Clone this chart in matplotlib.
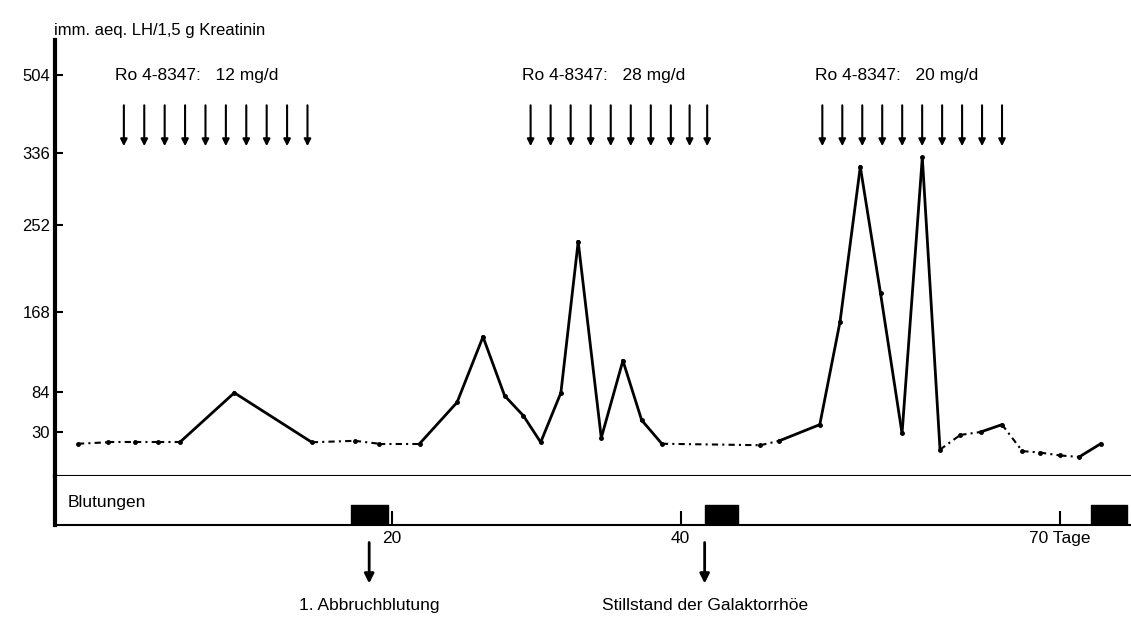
import numpy as np
import matplotlib
matplotlib.use("Agg")
import matplotlib.pyplot as plt

# LH excretion (days, immuno-equivalents LH / 1.5 g creatinine)
days = [-1.9, 0.2, 2.1, 3.7, 5.2, 9.0, 14.4, 17.4, 19.1, 21.9, 24.5, 26.3, 27.8, 29.1, 30.3,
        31.7, 32.9, 34.5, 36.0, 37.3, 38.7, 46.3, 47.8, 51.0, 52.6, 54.2, 55.8, 57.5, 59.1,
        60.5, 62.1, 63.7, 65.4, 67.0, 68.4, 70.0, 71.5, 73.2]
lh = [22, 23, 23, 23, 23, 83, 23, 24, 22, 22, 70, 142, 79, 52, 23,
      83, 236, 26, 117, 46, 22, 21, 24, 40, 158, 320, 186, 29, 331,
      18, 28, 30, 40, 17, 16, 14, 13, 22]
# segment styles: True = solid
solid = [False, False, False, False, True, True, False, False, False, True, True, True, True, True,
         True, True, True, True, True, True, False, False, True, True, True, True, True, True,
         True, False, False, True, False, False, False, False, True]
yticks = [30, 84, 168, 252, 336, 504]
xticks = [20, 40, 70]
xticklabels = ["20", "40", "70 Tage"]
doses = [("Ro 4-8347:   12 mg/d", 1.3, 14.1), ("Ro 4-8347:   28 mg/d", 29.6, 42.1), ("Ro 4-8347:   20 mg/d", 51.2, 65.4)]
bleed = [(17.1, 19.7), (41.9, 44.5), (72.4, 75.3)]
events = [(18.4, "1. Abbruchblutung"), (41.9, "Stillstand der Galaktorrhöe")]

# irregular hand-drawn axes -> piecewise scales
xd = [-3.6, 20, 40, 70, 76.5]; xp = [55, 393, 681, 1060, 1142]
yv = [0, 30, 84, 168, 252, 336, 504, 600]; yp = [476, 432, 392, 312, 225, 153, 75, 30]
yp_up = [476 - p for p in yp]
fx = (lambda v: np.interp(v, xd, xp), lambda p: np.interp(p, xp, xd))
fy = (lambda v: np.interp(v, yv, yp_up), lambda p: np.interp(p, yp_up, yv))

plt.rcParams["font.family"] = ["Liberation Sans", "DejaVu Sans"]
fig = plt.figure(figsize=(11.31, 6.19), dpi=100)
ax = fig.add_axes([55/1131, (619-476)/619, 1-55/1131, 436/619])
st = fig.add_axes([55/1131, (619-525)/619, 1-55/1131, 49/619], sharex=ax)
for a in (ax, st):
    a.set_xscale("function", functions=fx)
ax.set_yscale("function", functions=fy)
ax.set_xlim(-3.5, 75.6); ax.set_ylim(0, 579)

for i in range(len(days)-1):
    ax.plot(days[i:i+2], lh[i:i+2], color="black", lw=2 if solid[i] else 1.5,
            ls="-" if solid[i] else (0, (3, 2, 1, 2)))
ax.plot(days, lh, ls="none", marker="o", ms=2.5, color="black")

for lab, d0, d1 in doses:
    ax.text(d0 - 0.6, 504, lab, fontsize=12.5, va="center", ha="left")
    for d in np.linspace(d0, d1, 10):
        ax.annotate("", xy=(d, 345), xytext=(d, 445),
                    arrowprops=dict(arrowstyle="-|>", color="black", lw=1.5, mutation_scale=10))

ax.set_yticks(yticks); ax.set_yticklabels([str(t) for t in yticks], fontsize=12)
ax.tick_params(axis="y", direction="in", length=6, width=1.5)
ax.tick_params(axis="x", bottom=False, labelbottom=False)
for s in ["top", "right"]:
    ax.spines[s].set_visible(False); st.spines[s].set_visible(False)
ax.spines["left"].set_linewidth(3); ax.spines["bottom"].set_linewidth(1.5)
st.spines["left"].set_linewidth(3); st.spines["bottom"].set_linewidth(1.5)
ax.text(-8.3, 600, "imm. aeq. LH/1,5 g Kreatinin", fontsize=12, va="center", clip_on=False)

st.set_ylim(0, 1); st.set_yticks([])
for b0, b1 in bleed:
    st.fill_between([b0, b1], 0, 0.4, color="black")
st.text(-2.6, 0.45, "Blutungen", fontsize=12.5, va="center")
st.set_xticks(xticks); st.set_xticklabels(xticklabels, fontsize=12.5)
st.tick_params(axis="x", direction="in", length=10, width=1.5, pad=4)
for d, lab in events:
    st.annotate("", xy=(d, -1.25), xytext=(d, -0.3),
                arrowprops=dict(arrowstyle="-|>", color="black", lw=2, mutation_scale=14),
                annotation_clip=False)
    st.text(d, -1.65, lab, fontsize=12.5, ha="center", va="center", clip_on=False)

fig.savefig("out.png", dpi=100)
